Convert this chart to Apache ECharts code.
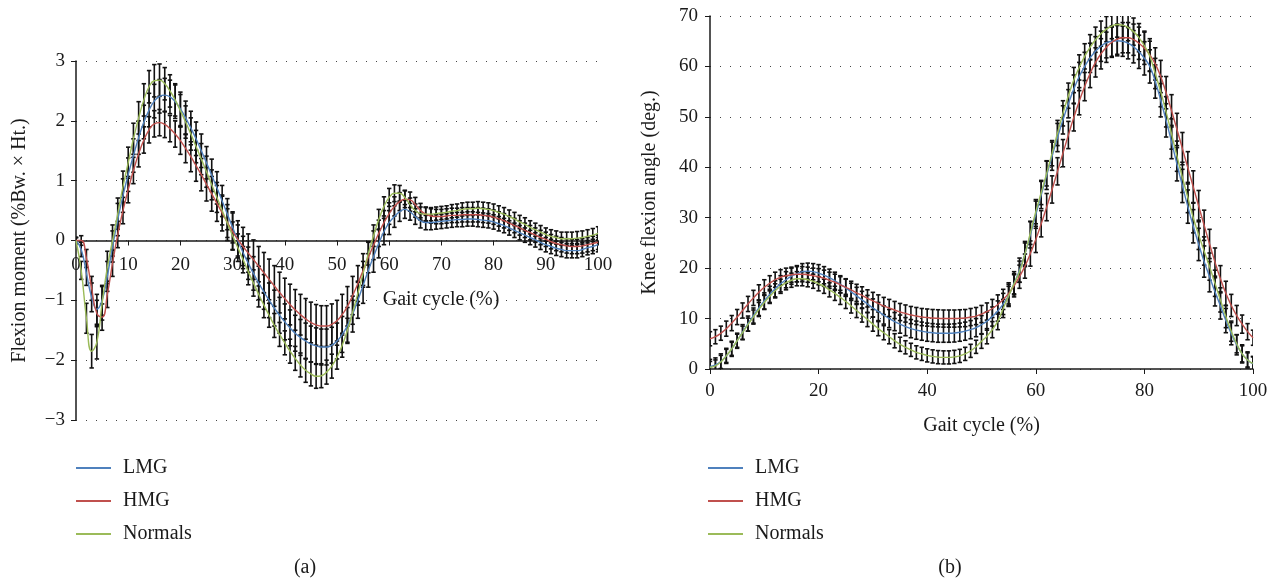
<!DOCTYPE html>
<html>
<head>
<meta charset="utf-8">
<script src="https://cdn.jsdelivr.net/npm/echarts@6/dist/echarts.min.js"></script>
<style>
  html, body { margin: 0; padding: 0; background: #fff; }
  #chart { width: 1277px; height: 583px; }
</style>
</head>
<body>
<div id="chart"></div>
<script>
// x position of every value = its index (gait cycle, 0..100 %)
const seriesNames = ['LMG', 'HMG', 'Normals']
const seriesColors = ['#4f81bd', '#c0504d', '#9bbb59']

// (a) flexion moment, %Bw. x Ht.
const momentLMG = [
  0, -0.15, -0.55, -0.95, -1.15, -1.0, -0.6, -0.1, 0.35, 0.75,
  1.1, 1.42, 1.72, 1.98, 2.18, 2.33, 2.41, 2.43, 2.4, 2.32,
  2.2, 2.05, 1.88, 1.7, 1.5, 1.3, 1.09, 0.88, 0.66, 0.44,
  0.22, 0.0, -0.2, -0.38, -0.55, -0.71, -0.86, -1.0, -1.13, -1.25,
  -1.36, -1.46, -1.55, -1.62, -1.68, -1.73, -1.76, -1.78, -1.78, -1.75,
  -1.68, -1.57, -1.42, -1.23, -1.0, -0.75, -0.5, -0.27, -0.05, 0.15,
  0.3, 0.4, 0.48, 0.52, 0.48, 0.4, 0.33, 0.3, 0.3, 0.31,
  0.32, 0.33, 0.34, 0.35, 0.35, 0.36, 0.36, 0.35, 0.34, 0.33,
  0.31, 0.28, 0.25, 0.21, 0.17, 0.13, 0.09, 0.05, 0.01, -0.03,
  -0.07, -0.1, -0.13, -0.15, -0.17, -0.17, -0.17, -0.15, -0.12, -0.1,
  -0.07
]
const momentHMG = [
  0, 0, -0.3, -0.8, -1.22, -1.28, -0.9, -0.38, 0.1, 0.5,
  0.85, 1.17, 1.45, 1.68, 1.85, 1.95, 1.97, 1.94, 1.87, 1.78,
  1.67, 1.54, 1.4, 1.25, 1.1, 0.94, 0.78, 0.62, 0.46, 0.3,
  0.15, 0.02, -0.1, -0.21, -0.32, -0.43, -0.54, -0.65, -0.76, -0.87,
  -0.97, -1.07, -1.16, -1.24, -1.31, -1.37, -1.41, -1.43, -1.43, -1.4,
  -1.34, -1.24, -1.1, -0.92, -0.72, -0.5, -0.28, -0.08, 0.12, 0.3,
  0.45, 0.57, 0.65, 0.69, 0.68, 0.6, 0.5, 0.44, 0.41, 0.4,
  0.4, 0.41, 0.42, 0.42, 0.43, 0.43, 0.43, 0.43, 0.42, 0.41,
  0.39, 0.36, 0.33, 0.29, 0.25, 0.21, 0.17, 0.13, 0.09, 0.05,
  0.02, -0.02, -0.05, -0.07, -0.09, -0.1, -0.1, -0.09, -0.07, -0.05,
  -0.03
]
const momentNormals = [
  0, -0.5, -1.3, -1.85, -1.7, -1.05, -0.45, 0.0, 0.45, 0.9,
  1.3, 1.7, 2.05, 2.35, 2.57, 2.67, 2.68, 2.62, 2.5, 2.35,
  2.17, 1.98, 1.78, 1.57, 1.36, 1.15, 0.93, 0.72, 0.5, 0.29,
  0.08, -0.12, -0.32, -0.52, -0.71, -0.9, -1.08, -1.25, -1.42, -1.57,
  -1.71, -1.85, -1.97, -2.08, -2.17, -2.23, -2.27, -2.26, -2.2, -2.1,
  -1.95, -1.75, -1.5, -1.2, -0.88, -0.55, -0.22, 0.08, 0.35, 0.57,
  0.72, 0.79, 0.79, 0.72, 0.6, 0.5, 0.45, 0.44, 0.44, 0.45,
  0.46, 0.47, 0.49, 0.5, 0.52, 0.53, 0.53, 0.54, 0.53, 0.52,
  0.5, 0.47, 0.44, 0.4, 0.36, 0.31, 0.27, 0.22, 0.18, 0.14,
  0.1, 0.07, 0.05, 0.03, 0.03, 0.03, 0.04, 0.05, 0.07, 0.09,
  0.12
]
const momentSdLMG = [
  0.05, 0.12, 0.2, 0.24, 0.25, 0.25, 0.25, 0.26, 0.27, 0.28,
  0.28, 0.28, 0.28, 0.28, 0.28, 0.28, 0.28, 0.28, 0.28, 0.28,
  0.28, 0.28, 0.28, 0.28, 0.28, 0.27, 0.27, 0.27, 0.26, 0.26,
  0.26, 0.26, 0.27, 0.27, 0.28, 0.28, 0.29, 0.29, 0.3, 0.3,
  0.3, 0.3, 0.3, 0.3, 0.3, 0.3, 0.3, 0.3, 0.3, 0.3,
  0.3, 0.3, 0.3, 0.3, 0.3, 0.3, 0.28, 0.26, 0.24, 0.22,
  0.2, 0.18, 0.16, 0.15, 0.14, 0.13, 0.12, 0.12, 0.12, 0.12,
  0.12, 0.12, 0.12, 0.12, 0.12, 0.12, 0.12, 0.12, 0.12, 0.12,
  0.12, 0.12, 0.12, 0.12, 0.12, 0.12, 0.12, 0.12, 0.12, 0.12,
  0.12, 0.12, 0.12, 0.12, 0.12, 0.12, 0.12, 0.12, 0.12, 0.12,
  0.12
]
const momentSdHMG = [
  0.05, 0.08, 0.15, 0.2, 0.22, 0.22, 0.22, 0.22, 0.22, 0.22,
  0.22, 0.22, 0.22, 0.22, 0.22, 0.22, 0.22, 0.22, 0.22, 0.22,
  0.23, 0.24, 0.25, 0.26, 0.27, 0.28, 0.29, 0.3, 0.3, 0.3,
  0.31, 0.31, 0.32, 0.32, 0.33, 0.33, 0.34, 0.34, 0.34, 0.34,
  0.34, 0.34, 0.34, 0.34, 0.34, 0.34, 0.34, 0.34, 0.34, 0.34,
  0.34, 0.34, 0.33, 0.32, 0.3, 0.28, 0.26, 0.24, 0.22, 0.2,
  0.18, 0.16, 0.15, 0.14, 0.13, 0.12, 0.12, 0.12, 0.12, 0.12,
  0.12, 0.12, 0.12, 0.12, 0.12, 0.12, 0.12, 0.12, 0.12, 0.12,
  0.12, 0.12, 0.12, 0.12, 0.12, 0.12, 0.12, 0.12, 0.12, 0.12,
  0.12, 0.12, 0.12, 0.12, 0.12, 0.12, 0.12, 0.12, 0.12, 0.12,
  0.12
]
const momentSdNormals = [
  0.05, 0.15, 0.25, 0.28, 0.28, 0.28, 0.27, 0.26, 0.26, 0.26,
  0.26, 0.26, 0.27, 0.27, 0.27, 0.27, 0.27, 0.27, 0.27, 0.27,
  0.27, 0.27, 0.27, 0.27, 0.26, 0.26, 0.25, 0.25, 0.24, 0.24,
  0.23, 0.23, 0.22, 0.22, 0.22, 0.21, 0.21, 0.2, 0.2, 0.2,
  0.2, 0.2, 0.2, 0.2, 0.2, 0.2, 0.2, 0.2, 0.2, 0.2,
  0.2, 0.2, 0.2, 0.2, 0.2, 0.2, 0.19, 0.18, 0.17, 0.16,
  0.15, 0.14, 0.13, 0.12, 0.11, 0.11, 0.11, 0.11, 0.11, 0.11,
  0.11, 0.11, 0.11, 0.11, 0.11, 0.11, 0.11, 0.11, 0.11, 0.11,
  0.11, 0.11, 0.11, 0.11, 0.11, 0.11, 0.11, 0.11, 0.11, 0.11,
  0.11, 0.11, 0.11, 0.11, 0.11, 0.11, 0.11, 0.11, 0.11, 0.11,
  0.11
]

// (b) knee flexion angle, deg.
const angleLMG = [
  0.5, 0.8, 1.5, 2.6, 4.0, 5.6, 7.3, 9.0, 10.6, 12.1,
  13.5, 14.8, 15.9, 16.9, 17.7, 18.4, 18.9, 19.3, 19.4, 19.3,
  19.0, 18.6, 18.1, 17.5, 16.8, 16.1, 15.3, 14.5, 13.7, 12.9,
  12.1, 11.4, 10.7, 10.0, 9.4, 8.9, 8.4, 8.0, 7.7, 7.5,
  7.3, 7.2, 7.1, 7.1, 7.1, 7.15, 7.3, 7.5, 7.8, 8.2,
  8.8, 9.5, 10.4, 11.5, 12.9, 14.6, 17.0, 19.6, 22.8, 26.6,
  30.6, 34.5, 38.4, 42.2, 45.9, 49.4, 52.6, 55.5, 58.0, 60.0,
  61.7, 63.0, 64.0, 64.7, 65.0, 65.1, 65.0, 64.6, 63.9, 62.9,
  61.6, 60.0, 57.0, 53.3, 49.3, 45.0, 40.6, 36.3, 32.2, 28.3,
  24.7, 21.3, 18.3, 15.3, 12.5, 9.6, 7.0, 4.8, 3.0, 1.8,
  1.0
]
const angleHMG = [
  6.0, 6.4, 7.1, 8.0, 9.1, 10.3, 11.6, 12.9, 14.1, 15.2,
  16.2, 17.0, 17.7, 18.2, 18.5, 18.7, 18.8, 18.8, 18.7, 18.5,
  18.3, 18.0, 17.6, 17.2, 16.7, 16.2, 15.7, 15.1, 14.6, 14.0,
  13.5, 13.0, 12.5, 12.1, 11.7, 11.3, 11.0, 10.7, 10.5, 10.3,
  10.2, 10.1, 10.05, 10.0, 10.0, 10.0, 10.05, 10.1, 10.3, 10.5,
  10.9, 11.4, 12.0, 12.8, 13.8, 15.0, 16.5, 18.3, 20.4, 22.9,
  25.7, 28.8, 32.1, 35.6, 39.2, 42.8, 46.4, 49.9, 53.1, 56.0,
  58.6, 60.8, 62.5, 63.8, 64.8, 65.4, 65.7, 65.7, 65.3, 64.6,
  63.6, 62.3, 60.5, 58.0, 54.8, 51.2, 47.5, 43.7, 39.9, 36.1,
  32.3, 28.5, 24.8, 21.2, 17.9, 15.0, 12.6, 10.6, 8.9, 7.4,
  6.2
]
const angleNormals = [
  0.3, 0.6, 1.4, 2.6, 4.0, 5.6, 7.2, 8.8, 10.3, 11.8,
  13.2, 14.4, 15.5, 16.4, 17.1, 17.6, 17.9, 17.9, 17.7, 17.4,
  16.9, 16.4, 15.7, 15.0, 14.2, 13.4, 12.5, 11.6, 10.7, 9.8,
  8.9, 8.0, 7.2, 6.4, 5.6, 4.9, 4.3, 3.8, 3.3, 3.0,
  2.7, 2.5, 2.35, 2.3, 2.3, 2.4, 2.6, 3.0, 3.6, 4.4,
  5.5, 6.5, 7.8, 9.5, 12.0, 14.5, 16.9, 19.3, 22.8, 27.0,
  31.2, 35.0, 38.8, 42.8, 46.8, 50.7, 54.2, 57.3, 59.8, 62.0,
  63.8, 65.3, 66.5, 67.4, 68.0, 68.3, 68.2, 67.7, 66.9, 65.7,
  64.1, 62.0, 58.6, 55.0, 51.0, 46.6, 42.2, 38.0, 34.0, 30.0,
  26.6, 23.4, 20.3, 17.0, 13.7, 10.4, 7.5, 5.0, 3.0, 1.8,
  1.1
]
const angleSdLMG = [
  1.4, 1.4, 1.5, 1.5, 1.5, 1.5, 1.5, 1.5, 1.5, 1.5,
  1.6, 1.6, 1.6, 1.6, 1.6, 1.6, 1.6, 1.6, 1.6, 1.6,
  1.7, 1.7, 1.7, 1.7, 1.7, 1.7, 1.7, 1.7, 1.7, 1.7,
  1.8, 1.8, 1.8, 1.8, 1.8, 1.8, 1.8, 1.8, 1.8, 1.8,
  1.8, 1.8, 1.8, 1.8, 1.8, 1.8, 1.8, 1.8, 1.8, 1.8,
  1.8, 1.8, 1.9, 2.0, 2.1, 2.2, 2.3, 2.4, 2.5, 2.6,
  2.7, 2.7, 2.8, 2.8, 2.8, 2.8, 2.8, 2.8, 2.8, 2.8,
  2.9, 2.9, 3.0, 3.0, 3.0, 3.0, 3.0, 3.1, 3.2, 3.3,
  3.3, 3.3, 3.3, 3.3, 3.3, 3.3, 3.3, 3.3, 3.3, 3.3,
  3.2, 3.1, 3.0, 2.8, 2.6, 2.4, 2.2, 2.0, 1.8, 1.6,
  1.5
]
const angleSdHMG = [
  1.4, 1.4, 1.4, 1.5, 1.5, 1.5, 1.5, 1.5, 1.5, 1.5,
  1.5, 1.5, 1.5, 1.5, 1.5, 1.5, 1.5, 1.5, 1.5, 1.5,
  1.6, 1.6, 1.6, 1.6, 1.6, 1.7, 1.7, 1.7, 1.7, 1.7,
  1.7, 1.7, 1.7, 1.7, 1.7, 1.7, 1.7, 1.7, 1.7, 1.7,
  1.7, 1.7, 1.7, 1.7, 1.7, 1.7, 1.7, 1.7, 1.7, 1.7,
  1.7, 1.7, 1.8, 1.9, 2.0, 2.1, 2.2, 2.3, 2.4, 2.5,
  2.6, 2.6, 2.7, 2.7, 2.7, 2.7, 2.7, 2.7, 2.7, 2.8,
  2.8, 2.9, 3.0, 3.0, 3.0, 3.0, 3.0, 3.0, 3.1, 3.2,
  3.2, 3.2, 3.2, 3.2, 3.2, 3.2, 3.2, 3.2, 3.2, 3.2,
  3.1, 3.0, 2.9, 2.8, 2.6, 2.4, 2.2, 2.0, 1.8, 1.6,
  1.5
]
const angleSdNormals = [
  1.2, 1.2, 1.3, 1.3, 1.3, 1.3, 1.3, 1.3, 1.4, 1.4,
  1.4, 1.4, 1.4, 1.4, 1.4, 1.4, 1.4, 1.4, 1.4, 1.4,
  1.4, 1.4, 1.4, 1.4, 1.4, 1.4, 1.4, 1.4, 1.4, 1.4,
  1.4, 1.4, 1.4, 1.4, 1.4, 1.4, 1.3, 1.3, 1.3, 1.3,
  1.3, 1.3, 1.3, 1.3, 1.3, 1.3, 1.3, 1.3, 1.3, 1.3,
  1.4, 1.5, 1.6, 1.7, 1.8, 1.9, 2.0, 2.1, 2.2, 2.3,
  2.4, 2.4, 2.5, 2.5, 2.5, 2.5, 2.5, 2.5, 2.5, 2.5,
  2.5, 2.5, 2.5, 2.5, 2.5, 2.5, 2.5, 2.6, 2.7, 2.8,
  2.9, 3.0, 3.0, 3.0, 3.0, 3.0, 3.0, 3.0, 3.0, 3.0,
  2.9, 2.8, 2.7, 2.6, 2.4, 2.2, 2.0, 1.8, 1.6, 1.4,
  1.3
]

const momentTicks = { min: -3, max: 3, interval: 1 }
const angleTicks = { min: 0, max: 70, interval: 10 }

const font = 'Liberation Serif'
const ink = '#1a1a1a'

// grid (a) is 359px tall, -3..3, so zero sits 179.5px above the bottom edge
const momentGridHeight = 359

function renderErrorBar(params, api) {
  const x = api.value(0)
  const top = api.coord([x, api.value(2)])
  const bot = api.coord([x, api.value(1)])
  const cap = 2.2
  const style = { stroke: '#111', lineWidth: 1.6 }
  return {
    type: 'group',
    children: [
      { type: 'line', shape: { x1: top[0], y1: top[1], x2: bot[0], y2: bot[1] }, style },
      { type: 'line', shape: { x1: top[0] - cap, y1: top[1], x2: top[0] + cap, y2: top[1] }, style },
      { type: 'line', shape: { x1: bot[0] - cap, y1: bot[1], x2: bot[0] + cap, y2: bot[1] }, style }
    ]
  }
}

function errorSeries(mean, sd, idx) {
  return {
    type: 'custom',
    xAxisIndex: idx,
    yAxisIndex: idx,
    silent: true,
    clip: true,
    z: 2,
    renderItem: renderErrorBar,
    encode: { x: 0, y: [1, 2] },
    data: mean.map((v, i) => [i, v - sd[i], v + sd[i]])
  }
}

function lineSeries(name, mean, color, idx) {
  return {
    name,
    type: 'line',
    xAxisIndex: idx,
    yAxisIndex: idx,
    smooth: true,
    symbol: 'none',
    z: 3,
    lineStyle: { color, width: 1.4 },
    itemStyle: { color },
    data: mean.map((v, i) => [i, v])
  }
}

function xAxisFor(idx, interval, name, offset, labelMargin) {
  return {
    type: 'value',
    gridIndex: idx,
    min: 0,
    max: 100,
    interval,
    name,
    nameLocation: 'middle',
    nameGap: 47,
    offset,
    nameTextStyle: { fontFamily: font, fontSize: 20, color: ink },
    axisLine: { onZero: false, lineStyle: { color: ink, width: 1.5 } },
    axisTick: { show: true, length: 5, lineStyle: { color: ink } },
    axisLabel: { fontFamily: font, fontSize: 19, color: ink, margin: labelMargin },
    splitLine: { show: false }
  }
}

function yAxisFor(idx, ticks, name, gap, labelMargin) {
  return {
    type: 'value',
    gridIndex: idx,
    min: ticks.min,
    max: ticks.max,
    interval: ticks.interval,
    name,
    nameLocation: 'middle',
    nameRotate: 90,
    nameGap: gap,
    nameTextStyle: { fontFamily: font, fontSize: 20, color: ink },
    axisLine: { show: true, onZero: false, lineStyle: { color: ink, width: 1.5 } },
    axisTick: { show: true, length: 5, lineStyle: { color: ink } },
    axisLabel: {
      fontFamily: font,
      fontSize: 19,
      color: ink,
      margin: labelMargin,
      formatter: v => String(v).replace('-', '\u2212')
    },
    splitLine: { show: true, lineStyle: { color: '#444', width: 1, type: [1, 9] } }
  }
}

function legendAt(left) {
  return {
    orient: 'vertical',
    left,
    top: 453,
    itemWidth: 35,
    itemHeight: 2,
    itemGap: 13,
    icon: 'rect',
    data: seriesNames,
    textStyle: { fontFamily: font, fontSize: 20, color: ink, lineHeight: 20, padding: [0, 0, 0, 7] }
  }
}

const option = {
  animation: false,
  backgroundColor: '#fff',
  grid: [
    { left: 76, right: 679, top: 61, bottom: 163 },
    { left: 710, right: 24, top: 16, bottom: 214 }
  ],
  xAxis: [
    xAxisFor(0, 10, '', -momentGridHeight / 2, 15),
    xAxisFor(1, 20, 'Gait cycle (%)', 0, 13)
  ],
  yAxis: [
    yAxisFor(0, momentTicks, 'Flexion moment (%Bw. × Ht.)', 46, 11),
    yAxisFor(1, angleTicks, 'Knee flexion angle (deg.)', 50, 12)
  ],
  legend: [legendAt(71), legendAt(703)],
  graphic: [
    { type: 'text', x: 441, y: 300, style: { text: 'Gait cycle (%)', font: '20px "Liberation Serif"', fill: ink, align: 'center', verticalAlign: 'middle' } },
    { type: 'text', x: 305, y: 568, style: { text: '(a)', font: '20px "Liberation Serif"', fill: ink, align: 'center', verticalAlign: 'middle' } },
    { type: 'text', x: 950, y: 568, style: { text: '(b)', font: '20px "Liberation Serif"', fill: ink, align: 'center', verticalAlign: 'middle' } }
  ],
  series: [
    errorSeries(momentLMG, momentSdLMG, 0),
    errorSeries(momentHMG, momentSdHMG, 0),
    errorSeries(momentNormals, momentSdNormals, 0),
    lineSeries(seriesNames[0], momentLMG, seriesColors[0], 0),
    lineSeries(seriesNames[1], momentHMG, seriesColors[1], 0),
    lineSeries(seriesNames[2], momentNormals, seriesColors[2], 0),
    errorSeries(angleLMG, angleSdLMG, 1),
    errorSeries(angleHMG, angleSdHMG, 1),
    errorSeries(angleNormals, angleSdNormals, 1),
    lineSeries(seriesNames[0], angleLMG, seriesColors[0], 1),
    lineSeries(seriesNames[1], angleHMG, seriesColors[1], 1),
    lineSeries(seriesNames[2], angleNormals, seriesColors[2], 1)
  ]
}

const chart = echarts.init(document.getElementById('chart'))
chart.setOption(option)
</script>
</body>
</html>
